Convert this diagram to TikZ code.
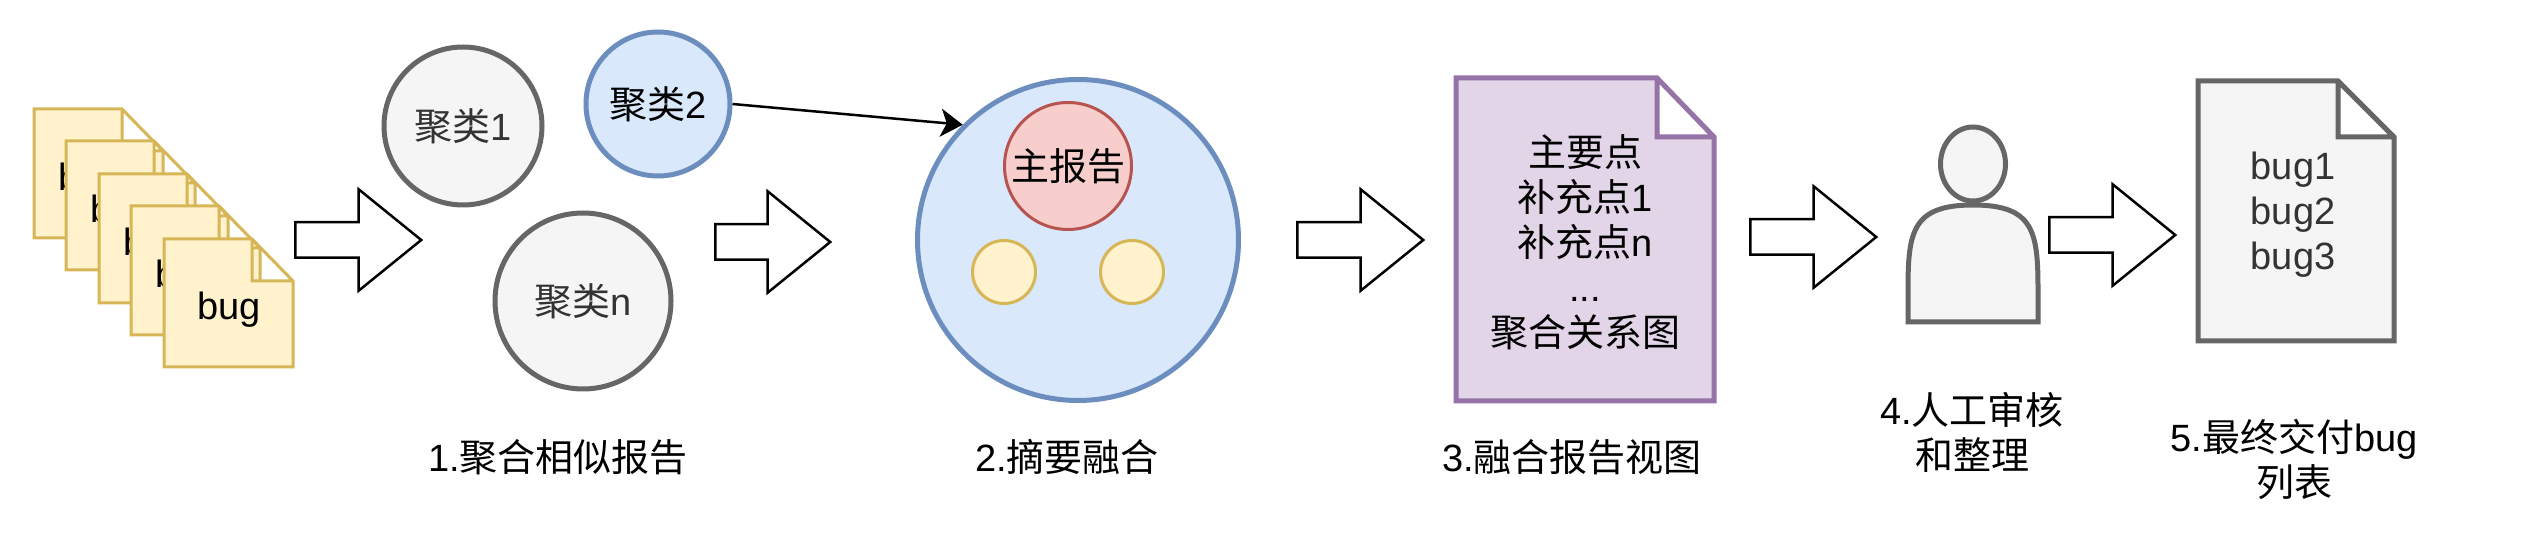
\documentclass[tikz,border=0pt]{standalone}
\usepackage{fontspec}
\setmainfont{Liberation Sans}
\newfontfamily\cjk{Noto Sans CJK SC}
\usetikzlibrary{shapes.geometric, shapes.arrows, arrows.meta}
\definecolor{grayline}{HTML}{666666}
\definecolor{grayfill}{HTML}{F5F5F5}
\definecolor{graytext}{HTML}{333333}
\definecolor{blueline}{HTML}{6C8EBF}
\definecolor{bluefill}{HTML}{DAE8FC}
\definecolor{redline}{HTML}{B85450}
\definecolor{redfill}{HTML}{F8CECC}
\definecolor{yellowline}{HTML}{D6B656}
\definecolor{yellowfill}{HTML}{FFF2CC}
\definecolor{purpleline}{HTML}{9673A6}
\definecolor{purplefill}{HTML}{E1D5E7}
\tikzset{
  every node/.style={font=\fontsize{19}{22.5}\selectfont, inner sep=0pt, align=center},
  graycircle/.style={draw=grayline, fill=grayfill, circle, line width=2.5pt, text=graytext},
  bluecircle/.style={draw=blueline, fill=bluefill, circle, line width=2.5pt},
  smallcircle/.style={draw=yellowline, fill=yellowfill, circle, line width=1.5pt, minimum size=31.5pt},
  bugpage/.style={draw=yellowline, fill=yellowfill, line width=1.5pt},
  graypage/.style={draw=grayline, fill=grayfill, line width=2.5pt},
  purplepage/.style={draw=purpleline, fill=purplefill, line width=2.5pt},
  blockarrow/.style={draw=black, fill=white, single arrow, anchor=tail, line width=1.25pt, inner sep=8.25pt, minimum width=49.5pt,
    single arrow head extend=16.5pt, single arrow tip angle=78, single arrow head indent=0pt},
}

\begin{document}
\begin{tikzpicture}[x=0.5pt, y=-0.5pt]
  \useasboundingbox (0,0) rectangle (2539,539);

  % Stack of bug pages
  \draw[bugpage] (34,109) -- ++(88,0) -- ++(41,42) -- ++(0,87) -- ++(-129,0) -- cycle (122,109) -- ++(0,42) -- ++(41,0);
  \node (bug1) at (90,181) {bug};
  \draw[bugpage] (66,141) -- ++(88,0) -- ++(41,42) -- ++(0,87) -- ++(-129,0) -- cycle (154,141) -- ++(0,42) -- ++(41,0);
  \node (bug2) at (122,213) {bug};
  \draw[bugpage] (99,174) -- ++(88,0) -- ++(41,42) -- ++(0,87) -- ++(-129,0) -- cycle (187,174) -- ++(0,42) -- ++(41,0);
  \node (bug3) at (155,246) {bug};
  \draw[bugpage] (131,206) -- ++(88,0) -- ++(41,42) -- ++(0,87) -- ++(-129,0) -- cycle (219,206) -- ++(0,42) -- ++(41,0);
  \node (bug4) at (187,278) {bug};
  \draw[bugpage] (164,239) -- ++(88,0) -- ++(41,42) -- ++(0,86) -- ++(-129,0) -- cycle (252,239) -- ++(0,42) -- ++(41,0);
  \node (bug5) at (229,310) {bug};

  \node[blockarrow, minimum height=63pt] (step1) at (294,240) {};

  % Clusters
  \node[graycircle, minimum size=79pt] (c1) at (463,126) {{\cjk 聚类}1};
  \node[bluecircle, minimum size=72pt] (c2) at (658,104) {{\cjk 聚类}2};
  \node[graycircle, minimum size=88pt] (cn) at (583,301) {{\cjk 聚类}n};
  \node (label1) at (558,457) {1.{\cjk 聚合相似报告}};

  \node[blockarrow, minimum height=57.5pt] (step2) at (714,242) {};

  % Merged summary
  \node[bluecircle, minimum size=160.5pt] (big) at (1078,240) {};
  \node[draw=redline, fill=redfill, circle, line width=1.5pt, minimum size=63.5pt] (mainrep) at (1068,166) {\cjk 主报告};
  \node[smallcircle] (sub1) at (1004,272) {};
  \node[smallcircle] (sub2) at (1132,272) {};
  \draw[-{Stealth[length=11pt, width=14pt, inset=3pt]}, line width=1.25pt] (c2.east) -- (big.135);
  \node (label2) at (1067,457) {2.{\cjk 摘要融合}};

  \node[blockarrow, minimum height=63pt] (step3) at (1296,240) {};

  % Merged report view
  \draw[purplepage] (1456,78) -- (1657,78) -- (1714,137) -- (1714,401) -- (1456,401) -- cycle (1657,78) -- (1657,137) -- (1714,137);
  \node (view) at (1585,242) {{\cjk 主要点}\\{\cjk 补充点}1\\{\cjk 补充点}n\\...\\{\cjk 聚合关系图}};
  \node (label3) at (1572,457) {3.{\cjk 融合报告视图}};

  \node[blockarrow, minimum height=63pt] (step4) at (1749,237) {};

  % Reviewer
  \draw[graypage] (1908,322) -- (1908,290) .. controls (1908,232) and (1912,205) .. (1973,205) .. controls (2034,205) and (2038,232) .. (2038,290) -- (2038,322) -- cycle;
  \node[draw=grayline, fill=grayfill, ellipse, line width=2.5pt, minimum width=32.5pt, minimum height=37pt] (head) at (1973,164) {};
  \node (label4) at (1972,432) {4.{\cjk 人工审核}\\{\cjk 和整理}};

  \node[blockarrow, minimum height=63pt] (step5) at (2048,235) {};

  % Final bug list
  \draw[graypage] (2198,81) -- (2338,81) -- (2394,137) -- (2394,341) -- (2198,341) -- cycle (2338,81) -- (2338,137) -- (2394,137);
  \node[text=graytext] (buglist) at (2293,215) {bug1\\bug2\\bug3};
  \node (label5) at (2294,459) {5.{\cjk 最终交付}bug\\{\cjk 列表}};
\end{tikzpicture}
\end{document}
